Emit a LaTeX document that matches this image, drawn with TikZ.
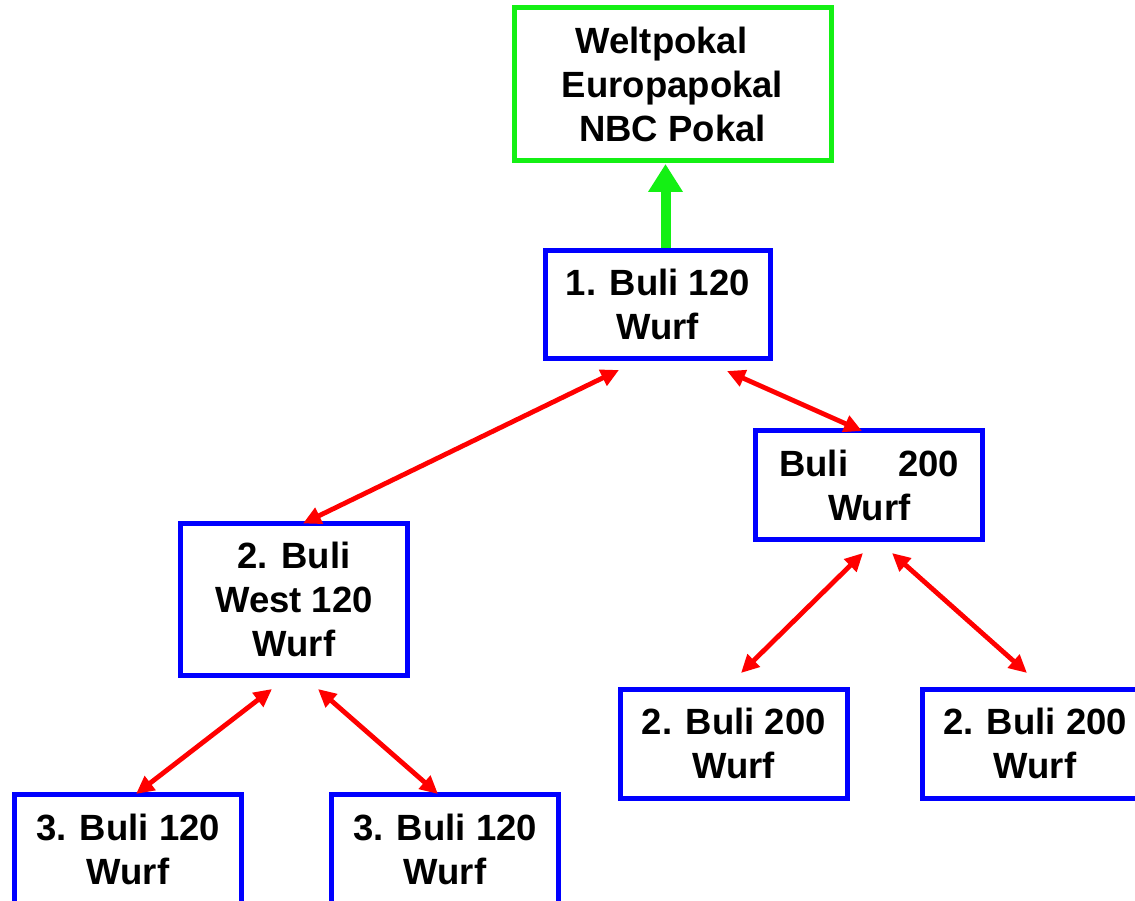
\documentclass[tikz,border=0pt]{standalone}
\usepackage{fontspec}
\setmainfont{Liberation Sans}
\usetikzlibrary{arrows.meta,calc}
\definecolor{boxblue}{RGB}{0,0,255}
\definecolor{boxgreen}{RGB}{20,240,20}
\definecolor{arrred}{RGB}{255,0,0}
\begin{document}
\begin{tikzpicture}[x=1pt,y=-1pt,
  lbl/.style={font=\fontsize{36.5}{44}\selectfont\bfseries, align=center, inner sep=0pt, outer sep=0pt, line width=5pt},
  bbox/.style={lbl, draw=boxblue, minimum width=227pt, minimum height=109pt},
  gbox/.style={lbl, draw=boxgreen, minimum width=317pt, minimum height=153.5pt},
  link/.style={draw=arrred, line width=4.8pt, {Triangle[length=18pt,width=17pt]}-{Triangle[length=18pt,width=17pt]}},
  uplink/.style={draw=boxgreen, line width=10pt, -{Triangle[length=28pt,width=33pt]}}]
\useasboundingbox (0,0) rectangle (1135,901);
\clip (0,0) rectangle (1135,901);
\node[gbox] (top) at (672.5,84.25) {Weltpokal\hspace*{22pt}\\Europapokal\\NBC Pokal};
\node[bbox, minimum width=225.5pt, minimum height=108pt] (b1) at (657.75,304.5) {1. Buli 120\\Wurf};
\node[bbox] (b200) at (869.25,485) {Buli\hspace{50pt}200\\Wurf};
\node[bbox, minimum height=152pt] (bwest) at (294,599.5) {2. Buli\\West 120\\Wurf};
\node[bbox] (b2l) at (733.75,743.5) {2. Buli 200\\Wurf};
\node[bbox, minimum width=226pt] (b2r) at (1035,743.5) {2. Buli 200\\Wurf};
\node[bbox, minimum height=110pt] (b3l) at (128,849.5) {3. Buli 120\\Wurf};
\node[bbox, minimum height=110pt] (b3r) at (445,849.5) {3. Buli 120\\Wurf};
\draw[uplink] ([shift={(7.75,-2)}]b1.north) -- ($(top.south -| b1.north)+(7.75,3)$);
\draw[link] ([shift={(-38.75,11.5)}]b1.south) -- ([shift={(9,0)}]bwest.north);
\draw[link] ([shift={(69.25,12.5)}]b1.south) -- ([shift={(-7.25,0.5)}]b200.north);
\draw[link] ([shift={(-6.25,13.5)}]b200.south) -- ([shift={(7.25,-16)}]b2l.north);
\draw[link] ([shift={(22.75,13.5)}]b200.south) -- ([shift={(-8,-16)}]b2r.north);
\draw[link] ([shift={(-22,13.5)}]bwest.south) -- ([shift={(8,-0.5)}]b3l.north);
\draw[link] ([shift={(24,13.5)}]bwest.south) -- ([shift={(-7,-0.5)}]b3r.north);
\end{tikzpicture}
\end{document}
